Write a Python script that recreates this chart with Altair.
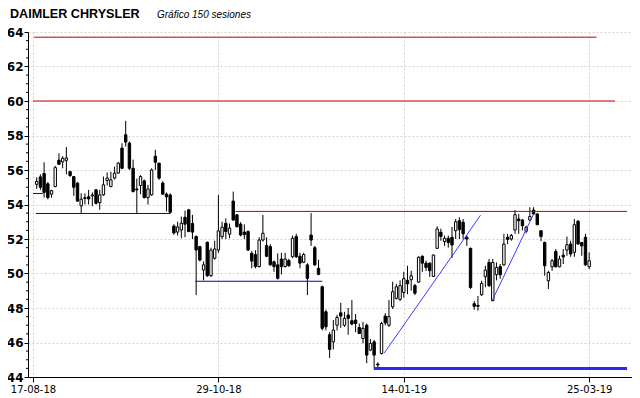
import altair as alt
import pandas as pd

title_main = "DAIMLER CHRYSLER"
title_sub = "Gráfico 150 sesiones"

opens = [55.17, 55.60, 55.80, 55.20, 54.60, 55.04, 56.57, 56.47, 56.56, 55.91,
         55.62, 55.24, 53.92, 54.35, 54.45, 54.50, 54.85, 54.11, 54.56, 55.39,
         55.04, 55.53, 55.82, 57.27, 58.04, 57.56, 56.10, 54.90, 55.10, 55.37,
         54.40, 54.56, 56.80, 56.40, 55.24, 54.60, 54.55, 52.75, 52.40, 52.52,
         53.26, 53.69, 52.90, 52.15, 51.56, 50.20, 51.81, 49.87, 50.88, 51.36,
         52.14, 52.91, 52.28, 54.20, 53.40, 52.86, 52.40, 52.43, 51.17, 51.10,
         50.40, 51.94, 51.62, 51.56, 50.68, 50.50, 50.84, 50.40, 50.75, 50.97,
         52.14, 51.00, 50.65, 50.50, 52.23, 51.50, 50.30, 49.23, 47.78, 46.45,
         46.04, 47.00, 47.72, 47.00, 47.59, 47.26, 47.30, 46.87, 46.23, 47.00,
         45.56, 46.04, 44.75, 45.36, 47.53, 47.00, 48.07, 48.56, 48.50, 48.90,
         49.60, 49.64, 49.30, 49.50, 51.00, 50.60, 50.60, 49.83, 51.46, 52.39,
         51.85, 52.04, 52.10, 52.48, 53.06, 52.97, 52.10, 51.46, 48.25, 48.15,
         48.77, 49.81, 50.64, 48.42, 49.93, 50.40, 50.50, 52.10, 52.00, 52.52,
         53.16, 53.10, 52.45, 53.10, 53.68, 53.45, 52.48, 51.80, 49.58, 50.39,
         51.28, 50.39, 51.06, 51.36, 51.71, 51.23, 53.03, 51.80, 52.10, 50.39]
highs = [55.58, 55.75, 56.45, 55.30, 54.85, 56.24, 56.97, 56.80, 57.33, 55.95,
         55.65, 55.30, 54.65, 54.65, 54.85, 54.70, 54.90, 54.85, 55.62, 55.86,
         55.90, 56.20, 56.45, 57.55, 58.85, 57.65, 56.60, 55.50, 55.70, 55.45,
         55.14, 56.10, 57.17, 56.40, 55.35, 54.70, 54.65, 52.85, 53.00, 53.30,
         53.65, 53.75, 53.40, 52.20, 51.60, 50.70, 51.85, 51.50, 51.90, 54.56,
         53.00, 53.20, 52.90, 54.75, 53.45, 52.98, 52.85, 52.50, 51.30, 51.35,
         52.10, 53.40, 52.10, 51.70, 50.75, 51.17, 51.20, 51.20, 50.85, 52.20,
         52.30, 51.20, 51.20, 50.60, 53.50, 51.60, 50.80, 49.30, 47.90, 46.60,
         47.30, 47.60, 48.30, 47.78, 48.00, 48.46, 47.65, 47.10, 47.20, 47.10,
         46.20, 46.15, 44.85, 47.20, 47.70, 48.46, 49.52, 49.40, 49.60, 50.10,
         50.45, 50.16, 49.40, 51.00, 51.05, 50.75, 50.65, 51.10, 52.74, 52.60,
         52.20, 52.20, 52.70, 53.16, 53.26, 53.16, 52.20, 51.50, 48.40, 48.70,
         49.58, 50.45, 50.84, 50.84, 50.64, 50.55, 52.30, 52.30, 52.30, 53.68,
         53.45, 53.16, 52.77, 53.84, 53.84, 53.50, 52.50, 51.85, 50.16, 50.84,
         51.42, 51.03, 51.42, 52.14, 51.90, 53.16, 53.10, 51.80, 52.30, 51.23]
lows = [54.90, 54.85, 54.40, 54.30, 54.40, 55.00, 56.30, 56.10, 55.75, 55.60,
        54.50, 54.15, 53.50, 54.00, 54.00, 53.90, 54.00, 53.70, 54.50, 55.10,
        55.00, 55.45, 55.80, 56.05, 57.36, 56.00, 54.70, 53.50, 54.60, 54.35,
        54.00, 54.50, 56.00, 55.43, 54.55, 53.60, 53.50, 52.25, 52.20, 52.04,
        52.10, 52.40, 52.00, 48.75, 50.70, 49.60, 49.80, 49.80, 50.80, 51.20,
        52.00, 52.00, 52.05, 53.05, 52.65, 52.15, 52.00, 51.30, 50.30, 50.30,
        50.35, 51.85, 50.95, 50.45, 50.10, 49.65, 49.95, 50.35, 50.40, 50.90,
        50.90, 50.30, 50.60, 48.75, 51.60, 50.45, 49.90, 46.70, 46.70, 45.10,
        45.60, 46.70, 46.85, 46.90, 46.45, 47.00, 46.60, 46.50, 45.95, 44.80,
        45.50, 44.55, 44.50, 45.30, 47.00, 46.90, 47.95, 48.50, 48.40, 48.60,
        48.80, 49.00, 48.75, 49.45, 50.10, 50.15, 49.80, 49.80, 51.42, 51.90,
        51.60, 51.50, 50.90, 52.00, 52.00, 52.00, 51.60, 49.10, 47.90, 47.85,
        48.70, 49.20, 49.23, 48.42, 49.60, 49.70, 50.45, 51.70, 51.90, 52.30,
        52.30, 52.50, 52.33, 53.06, 53.40, 52.80, 51.87, 49.87, 49.10, 50.16,
        50.35, 50.35, 50.55, 51.03, 50.97, 50.97, 51.67, 51.03, 50.45, 50.26]
closes = [55.33, 55.00, 54.70, 54.40, 54.80, 56.14, 56.33, 56.68, 56.70, 55.68,
          55.00, 54.20, 54.31, 54.40, 54.32, 54.55, 54.07, 54.56, 55.14, 55.53,
          55.43, 55.82, 56.40, 56.10, 57.62, 56.10, 54.75, 54.85, 55.62, 54.40,
          54.90, 56.00, 56.45, 55.53, 54.60, 54.44, 53.55, 52.35, 52.70, 52.91,
          52.86, 52.43, 52.40, 51.36, 50.78, 50.50, 49.87, 51.36, 51.42, 52.47,
          52.69, 52.43, 52.63, 53.10, 52.72, 52.23, 52.25, 51.36, 50.72, 50.40,
          51.94, 52.33, 51.00, 50.50, 50.40, 49.72, 50.40, 50.84, 50.45, 52.04,
          50.97, 50.60, 51.10, 49.72, 51.94, 50.50, 49.95, 46.82, 46.91, 45.60,
          46.72, 47.45, 47.53, 47.40, 47.40, 47.07, 47.10, 46.52, 46.82, 45.27,
          45.95, 45.27, 44.70, 47.10, 47.14, 47.50, 48.94, 49.23, 49.30, 49.70,
          49.40, 49.87, 48.86, 50.94, 50.60, 50.35, 50.16, 51.07, 52.58, 52.15,
          52.04, 51.80, 51.65, 53.00, 52.54, 52.30, 52.00, 49.19, 48.10, 48.10,
          49.43, 50.20, 49.29, 50.64, 50.35, 49.93, 51.70, 51.98, 52.20, 53.41,
          53.06, 52.77, 52.68, 53.30, 53.45, 52.83, 52.14, 50.45, 50.06, 50.74,
          50.39, 50.84, 50.96, 51.67, 51.13, 52.83, 51.71, 51.60, 50.50, 50.74]

y_ticks = [44, 46, 48, 50, 52, 54, 56, 58, 60, 62, 64]
y_minor = [44.5, 45, 45.5, 46.5, 47, 47.5, 48.5, 49, 49.5, 50.5, 51, 51.5,
           52.5, 53, 53.5, 54.5, 55, 55.5, 56.5, 57, 57.5, 58.5, 59, 59.5,
           60.5, 61, 61.5, 62.5, 63, 63.5]
x_tick_pos = [-1, 49, 99, 149]
x_tick_labels = ["17-08-18", "29-10-18", "14-01-19", "25-03-19"]

# annotation lines (session index, price)
res_x1 = [-0.7, -1.0, 53.6]
res_x2 = [151.0, 156.0, 159.2]
res_y = [63.7, 60.0, 53.6]
sup_x1 = [-1.0, -0.2, 42.8]
sup_x2 = [1.65, 36.1, 77.0]
sup_y = [54.64, 53.48, 49.55]
trend_x1 = [93.7, 122.9]
trend_y1 = [45.38, 48.46]
trend_x2 = [119.7, 134.0]
trend_y2 = [53.38, 53.44]
floor_x1 = [90.9]
floor_x2 = [159.2]
floor_y = [44.49]

df = pd.DataFrame({"i": list(range(len(opens))), "open": opens, "high": highs,
                   "low": lows, "close": closes})

xscale = alt.Scale(domain=[-1, 159.2], nice=False, zero=False)
yscale = alt.Scale(domain=[44, 64], nice=False, zero=False)

label_expr = ("[" + ",".join("'%s'" % s for s in x_tick_labels) + "][indexof(["
              + ",".join(str(v) for v in x_tick_pos) + "], datum.value)]")

GRID = "#d2d2d2"
xaxis = alt.Axis(values=x_tick_pos, labelExpr=label_expr, title=None,
                 grid=True, gridColor=GRID, gridDash=[2, 2],
                 domainColor="black", tickColor="black", tickSize=5,
                 labelFont="DejaVu Sans", labelFontSize=10, labelColor="black",
                 labelPadding=2, labelOverlap=False, labelBound=False,
                 labelFlush=False)
yaxis = alt.Axis(values=y_ticks, title=None, grid=True, gridColor=GRID,
                 gridDash=[2, 2], domainColor="black", tickColor="black",
                 tickSize=4, labelFont="DejaVu Sans", labelFontSize=12,
                 labelFontWeight="bold", labelColor="black", labelPadding=1,
                 format="d")

X = lambda f: alt.X(f, type="quantitative", scale=xscale, axis=xaxis)
Y = lambda f: alt.Y(f, type="quantitative", scale=yscale, axis=yaxis)

wicks = alt.Chart(df).mark_rule(color="black", strokeWidth=1).encode(
    x=X("i"), y=Y("low"), y2="high")

bodies = alt.Chart(df).mark_bar(size=2.4, stroke="black", strokeWidth=1).encode(
    x=X("i"), y=Y("open"), y2="close",
    fill=alt.condition("datum.close >= datum.open", alt.value("white"),
                       alt.value("black")))

res_df = pd.DataFrame({"x1": res_x1, "x2": res_x2, "y": res_y})
res = alt.Chart(res_df).mark_rule(color="#c00000", strokeWidth=1).encode(
    x=X("x1"), x2="x2", y=Y("y"))

sup_df = pd.DataFrame({"x1": sup_x1, "x2": sup_x2, "y": sup_y})
sup = alt.Chart(sup_df).mark_rule(color="#0000c8", strokeWidth=1).encode(
    x=X("x1"), x2="x2", y=Y("y"))

trend_df = pd.DataFrame({"x1": trend_x1, "x2": trend_x2, "y1": trend_y1,
                         "y2": trend_y2})
trend = alt.Chart(trend_df).mark_rule(color="#3a3aff", strokeWidth=1).encode(
    x=X("x1"), x2="x2", y=Y("y1"), y2="y2")

floor_df = pd.DataFrame({"x1": floor_x1, "x2": floor_x2, "y": floor_y})
floor = alt.Chart(floor_df).mark_rule(color="#2a2af0", strokeWidth=3).encode(
    x=X("x1"), x2="x2", y=Y("y"))

minor_df = pd.DataFrame({"v": y_minor})
minor = alt.Chart(minor_df).mark_rule(color="black", strokeWidth=1).encode(
    x=alt.value(-2), x2=alt.value(0), y=Y("v"))

t1 = alt.Chart(pd.DataFrame({"t": [title_main]})).mark_text(
    align="left", baseline="alphabetic", font="Liberation Sans", fontSize=12.6,
    fontWeight="bold", color="black").encode(
    text="t:N", x=alt.value(-18), y=alt.value(-14))
t2 = alt.Chart(pd.DataFrame({"t": [title_sub]})).mark_text(
    align="left", baseline="alphabetic", font="Liberation Sans", fontSize=10,
    fontStyle="italic", color="black").encode(
    text="t:N", x=alt.value(129), y=alt.value(-14))

chart = alt.layer(wicks, bodies, res, sup, trend, floor, minor, t1, t2).properties(
    width=604, height=345,
    padding={"left": 20, "top": 24, "right": 0, "bottom": 20},
    autosize=alt.AutoSizeParams(type="none"),
    background="white",
).configure_view(stroke=None)

chart.save("out.html", embed_options={"renderer": "svg", "actions": False})
